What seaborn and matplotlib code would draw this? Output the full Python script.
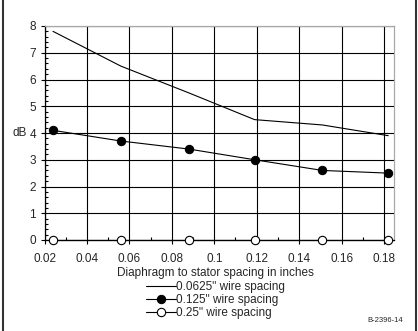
import matplotlib
matplotlib.use("Agg")
import matplotlib.pyplot as plt
import seaborn as sns
from matplotlib.ticker import MultipleLocator
from matplotlib.lines import Line2D

spacing = [0.024, 0.056, 0.088, 0.119, 0.151, 0.182]
db_0625 = [7.8, 6.5, 5.5, 4.5, 4.3, 3.9]
db_125 = [4.1, 3.7, 3.4, 3.0, 2.6, 2.5]
db_25 = [0, 0, 0, 0, 0, 0]
labels = ['0.0625" wire spacing', '0.125" wire spacing', '0.25" wire spacing']
xticks = [0.02, 0.04, 0.06, 0.08, 0.10, 0.12, 0.14, 0.16, 0.18]
xticklabels = ["0.02", "0.04", "0.06", "0.08", "0.1", "0.12", "0.14", "0.16", "0.18"]
yticks = [0, 1, 2, 3, 4, 5, 6, 7, 8]

sns.set_style("white")
plt.rcParams["font.family"] = ["Liberation Sans", "DejaVu Sans"]

W, H = 418, 331
fig = plt.figure(figsize=(W / 100, H / 100), dpi=100)
ax = fig.add_axes([44.5 / W, 1 - 240 / H, (394 - 44.5) / W, (240 - 26) / H])

sns.lineplot(x=spacing, y=db_0625, ax=ax, color="black", lw=0.8, label=labels[0])
sns.lineplot(x=spacing, y=db_125, ax=ax, color="black", lw=0.8, marker="o",
             markersize=6, markerfacecolor="black", markeredgecolor="black",
             label=labels[1])
sns.lineplot(x=spacing, y=db_25, ax=ax, color="black", lw=0.8, marker="o",
             markersize=6, markerfacecolor="white", markeredgecolor="black",
             markeredgewidth=0.8, label=labels[2])
for ln in ax.lines:
    ln.set_clip_on(False)
    ln.set_zorder(4)

ax.set_xlim(0.02, 0.1847)
ax.set_ylim(0, 8)
ax.set_xticks(xticks)
ax.set_xticklabels(xticklabels)
ax.set_yticks(yticks)
ax.set_yticklabels([str(v) for v in yticks])
ax.xaxis.set_minor_locator(MultipleLocator(0.01))
ax.yaxis.set_minor_locator(MultipleLocator(0.2))
ax.tick_params(axis="both", which="major", direction="out", length=3, width=0.8,
               color="black", labelsize=8.5, pad=3, bottom=True, left=True)
ax.tick_params(axis="x", which="major", pad=6.5)
ax.tick_params(axis="both", which="minor", direction="in", length=2.5, width=0.8,
               color="black", bottom=True, left=True)

ax.set_axisbelow(True)
ax.grid(True, which="major", color="black", lw=0.8)
for s in ["left", "bottom"]:
    ax.spines[s].set_color("black")
    ax.spines[s].set_linewidth(0.9)
for s in ["top", "right"]:
    ax.spines[s].set_color("#a8a8a8")
    ax.spines[s].set_linewidth(0.9)

ax.set_xlabel("Diaphragm to stator spacing in inches", fontsize=8.5)
ax.xaxis.set_label_coords(0.49, -0.128)
ax.set_ylabel("")
fig.text(19.7 / W, 1 - 133 / H, "dB", ha="center", va="center", fontsize=8.5)

leg = ax.legend(loc="upper left", bbox_to_anchor=(146 / W, 1 - 281 / H),
                bbox_transform=fig.transFigure, frameon=False, fontsize=8.5,
                handlelength=2.5, handletextpad=0.05, labelspacing=0.1,
                borderpad=0, borderaxespad=0)

fig.text(385 / W, 1 - 321 / H, "B-2396-14", ha="center", va="center", fontsize=5.5)

fig.add_artist(Line2D([3 / W, 3 / W], [0, 1], transform=fig.transFigure, color="#333333", lw=1.5))
fig.add_artist(Line2D([416 / W, 416 / W], [0, 1], transform=fig.transFigure, color="#333333", lw=1.5))

fig.savefig("out.png", dpi=100)
